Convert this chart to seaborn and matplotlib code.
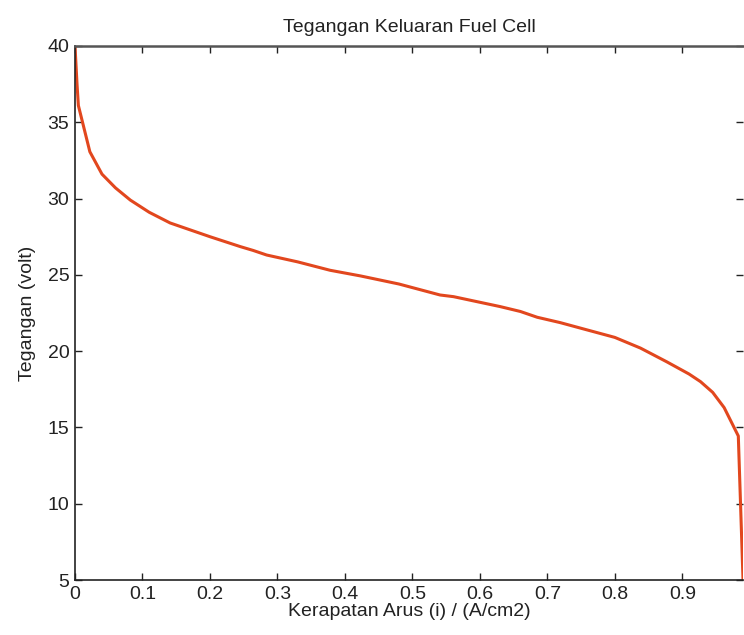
import matplotlib
matplotlib.use("Agg")
import matplotlib.pyplot as plt
import seaborn as sns
import pandas as pd

# Data
current_density = [0, 0.003, 0.005, 0.022, 0.04, 0.06, 0.082, 0.11, 0.141, 0.2,
                   0.245, 0.264, 0.284, 0.33, 0.378, 0.423, 0.48, 0.541, 0.561,
                   0.63, 0.66, 0.685, 0.719, 0.754, 0.8, 0.838, 0.877, 0.91,
                   0.927, 0.945, 0.962, 0.983, 0.99]
voltage = [40, 37.5, 36.1, 33.07, 31.6, 30.7, 29.9, 29.1, 28.4, 27.5,
           26.85, 26.6, 26.3, 25.85, 25.3, 24.93, 24.4, 23.68, 23.57,
           22.92, 22.6, 22.22, 21.87, 21.45, 20.9, 20.2, 19.3, 18.5,
           18.0, 17.3, 16.3, 14.44, 5.0]
x_ticks = [0, 0.1, 0.2, 0.3, 0.4, 0.5, 0.6, 0.7, 0.8, 0.9]
x_tick_labels = ["0", "0.1", "0.2", "0.3", "0.4", "0.5", "0.6", "0.7", "0.8", "0.9"]
y_ticks = [5, 10, 15, 20, 25, 30, 35, 40]

df = pd.DataFrame({"i": current_density, "V": voltage})

sns.set_style("white")
plt.rcParams["font.family"] = ["Liberation Sans", "DejaVu Sans"]

fig = plt.figure(figsize=(7.44, 6.35), dpi=100)
ax = fig.add_axes([0.1008, 0.0866, 0.9987 - 0.1008, 0.9276 - 0.0866])

sns.lineplot(data=df, x="i", y="V", ax=ax, color="#E2471E", linewidth=2.2,
             sort=False, estimator=None)

ax.set_xlim(0, 0.99)
ax.set_ylim(5, 40)
ax.set_xticks(x_ticks)
ax.set_xticklabels(x_tick_labels)
ax.set_yticks(y_ticks)

ax.tick_params(direction="in", length=5, width=1, color="#222222",
               labelsize=14, labelcolor="#222222", pad=4,
               top=True, right=True, bottom=True, left=True)

for side in ["left", "bottom"]:
    ax.spines[side].set_color("#222222")
    ax.spines[side].set_linewidth(1.2)
ax.spines["top"].set_color("#555555")
ax.spines["top"].set_linewidth(1.8)
ax.spines["right"].set_visible(False)

ax.set_title("Tegangan Keluaran Fuel Cell", fontsize=14, color="#222222", pad=10)
ax.set_xlabel("Kerapatan Arus (i) / (A/cm2)", fontsize=14, color="#222222", labelpad=0)
ax.set_ylabel("Tegangan (volt)", fontsize=14, color="#222222", labelpad=8)

fig.savefig("out.png", dpi=100)
